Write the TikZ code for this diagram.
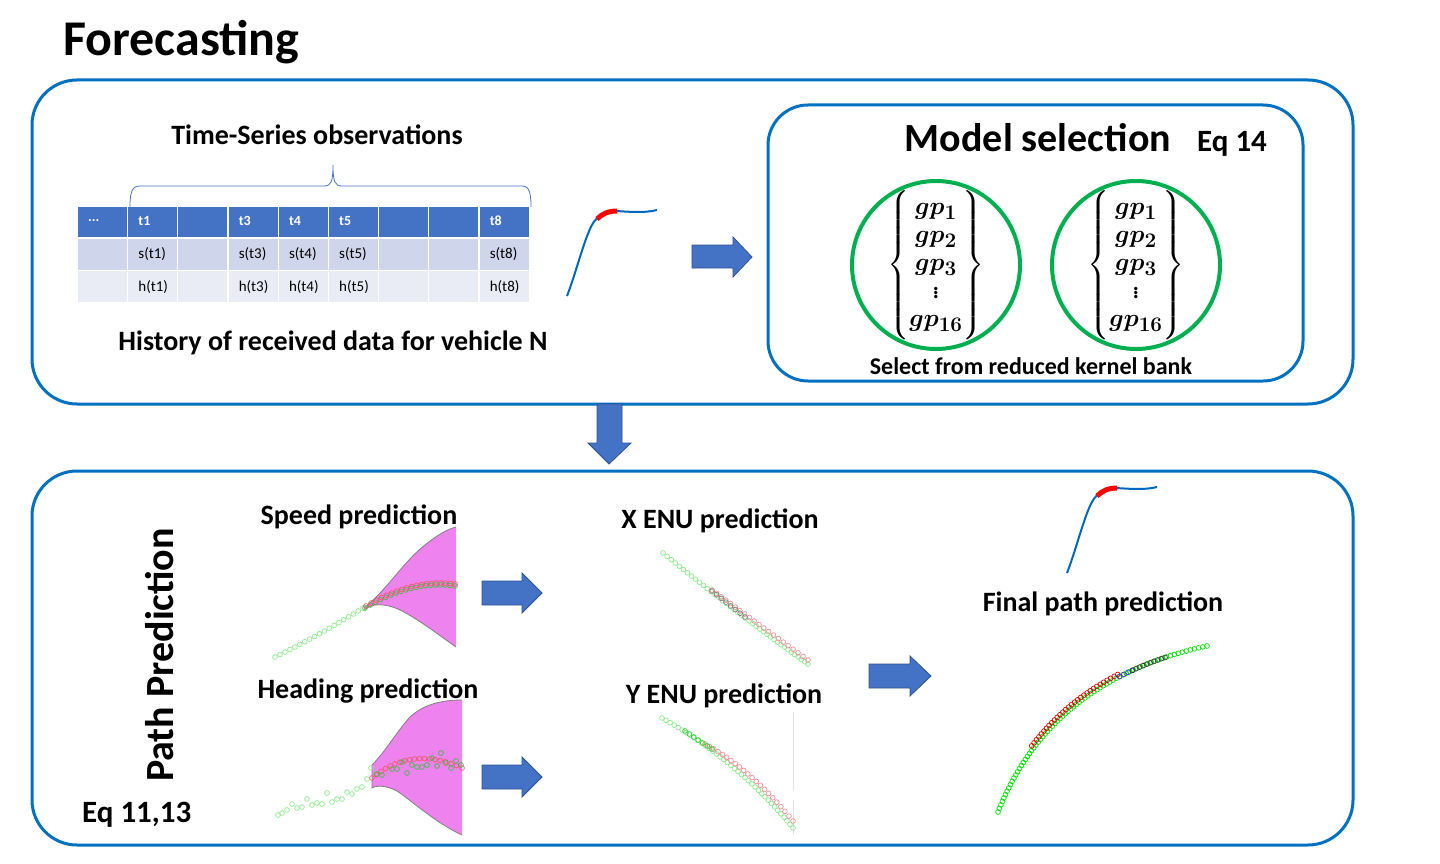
\documentclass[tikz,border=0pt]{standalone}
\usepackage{fontspec}
\usepackage{amsmath}
\usepackage{bm}
\setmainfont{Carlito}

\definecolor{boxblue}{RGB}{0,112,192}
\definecolor{arrowblue}{RGB}{68,114,196}
\definecolor{arrowedge}{RGB}{47,82,143}
\definecolor{rowa}{RGB}{207,213,234}
\definecolor{rowb}{RGB}{233,235,245}
\definecolor{kernelgreen}{RGB}{0,176,80}
\definecolor{bandpink}{RGB}{238,130,238}
\definecolor{lightgr}{RGB}{140,235,140}
\definecolor{predred}{RGB}{240,90,110}
\definecolor{curveblue}{RGB}{0,102,190}

\begin{document}
\begin{tikzpicture}[x=1pt, y=-1pt, every node/.style={inner sep=0pt},
    panel/.style={draw=boxblue, line width=3pt, rounded corners=45pt},
    blockarrow/.style={fill=arrowblue, draw=arrowedge, line width=0.8pt},
    heading/.style={font=\bfseries\fontsize{28}{32}\selectfont},
    cellhead/.style={text=white, anchor=west, font=\bfseries\fontsize{14}{16}\selectfont},
    cell/.style={anchor=west, font=\fontsize{15}{17}\selectfont},
    sample/.style={line width=0.7pt}]
    \useasboundingbox (0,0) rectangle (1440,864);

    % Title
    \node[anchor=base west, font=\bfseries\fontsize{50}{56}\selectfont] (title) at (63,56) {Forecasting};

    % Upper panel
    \draw[panel] (32,80) rectangle (1353,404);
    \node[heading, anchor=base] (obs) at (317,144) {Time-Series observations};
    \draw[arrowblue, line width=0.8pt] (130,207) .. controls (130,192) and (132,186) .. (140,186) -- (324,186) .. controls (331,186) and (333,182) .. (333,165)
        .. controls (333,182) and (335,186) .. (342,186) -- (522,186) .. controls (529,186) and (531,192) .. (531,207);

    % History table
    \foreach \i in {0,...,8} {
        \fill[arrowblue] ({78+50.2*\i},207) rectangle ++(49,30);
        \fill[rowa] ({78+50.2*\i},239) rectangle ++(49,31);
        \fill[rowb] ({78+50.2*\i},271) rectangle ++(49,31);
    }
    \node[cellhead] (hdots) at (88,221) {...};
    \foreach \i in {1,3,4,5,8} {
        \node[cellhead] (head\i) at ({78+50.2*\i+10},221) {t\i};
        \node[cell] (s\i) at ({78+50.2*\i+10},254) {s(t\i)};
        \node[cell] (h\i) at ({78+50.2*\i+10},287) {h(t\i)};
    }
    \node[heading, anchor=base] (history) at (333,350) {History of received data for vehicle N};

    % Small trajectory sketches
    \foreach \sx/\sy in {0/0, 500/277} {
        \begin{scope}[shift={(\sx,\sy)}]
            \draw[curveblue, line width=2pt] (567,296) .. controls (578,268) and (588,222) .. (598,218);
            \draw[curveblue, line width=2pt] (616,211) .. controls (632,212) and (645,213) .. (657,210);
            \draw[red, line width=5pt] (597,219) .. controls (602,214) and (608,211) .. (617,211);
        \end{scope}
    }

    % Arrow to model selection
    \draw[blockarrow] (692,245) -- (733,245) -- (733,237) -- (752,257) -- (733,277) -- (733,268) -- (692,268) -- cycle;

    % Model selection panel
    \draw[panel, rounded corners=40pt] (768,105) rectangle (1303,381);
    \node[anchor=base, font=\bfseries\fontsize{40}{44}\selectfont] (model) at (1038,152) {Model selection};
    \node[anchor=base west, font=\bfseries\fontsize{31}{35}\selectfont] (eq14) at (1197,152) {Eq 14};
    \foreach \cx [count=\k] in {936,1136} {
        \draw[kernelgreen, line width=4pt] (\cx,265) circle (84pt);
        \node[font=\fontsize{28}{28}\selectfont\boldmath] (bank\k) at (\cx,265)
            {$\left\{\begin{matrix}gp_1\\ gp_2\\ gp_3\\ \vdots\\ gp_{16}\end{matrix}\right\}$};
    }
    \node[anchor=base, font=\bfseries\fontsize{24}{28}\selectfont] (select) at (1031,374) {Select from reduced kernel bank};

    % Arrow down
    \draw[blockarrow] (597,404) -- (622,404) -- (622,443) -- (631,443) -- (609,464) -- (588,443) -- (597,443) -- cycle;

    % Lower panel
    \draw[panel] (32,471) rectangle (1353,845);
    \node[anchor=base, rotate=90, font=\bfseries\fontsize{40}{44}\selectfont] (pathpred) at (173,655) {Path Prediction};
    \node[anchor=base west, font=\bfseries\fontsize{31}{35}\selectfont] (eq1113) at (82,822) {Eq 11,13};

    % Speed prediction
    \node[heading, anchor=base] (speed) at (359,524) {Speed prediction};
    \fill[bandpink] (364,608) .. controls (385,592) and (405,560) .. (425,545) .. controls (437,535) and (448,529) .. (456,527)
        -- (456,647) .. controls (440,636) and (420,620) .. (400,610) .. controls (385,603) and (372,603) .. (364,610) -- cycle;
    \draw[gray, line width=0.8pt] (364,608) .. controls (385,592) and (405,560) .. (425,545) .. controls (437,535) and (448,529) .. (456,527);
    \draw[gray, line width=0.8pt] (364,610) .. controls (372,603) and (385,603) .. (400,610) .. controls (420,620) and (440,636) .. (456,647);
    \draw[blockarrow] (482,581) -- (522,581) -- (522,573) -- (542,593) -- (522,613) -- (522,605) -- (482,605) -- cycle;

    % Heading prediction
    \node[heading, anchor=base] (head) at (368,698) {Heading prediction};
    \fill[bandpink] (372,765) .. controls (385,752) and (398,730) .. (410,717) .. controls (425,703) and (445,700) .. (462,700)
        -- (462,835) .. controls (440,825) and (420,808) .. (400,793) .. controls (392,787) and (378,784) .. (372,788) -- cycle;
    \draw[gray, line width=0.8pt] (462,700) .. controls (445,700) and (425,703) .. (410,717) .. controls (398,730) and (385,752) .. (372,765)
        -- (372,788) .. controls (378,784) and (392,787) .. (400,793) .. controls (420,808) and (440,825) .. (462,835);
    \foreach \p in {(278,815),(282,813),(287,810),(292,804),(297,808),(302,807),(307,799),(312,805),(317,803),(322,804),
                    (327,793),(332,802),(337,799),(342,799),(347,792),(352,794),(357,789),(362,787),(367,779),(371,768)}
        \draw[lightgr, sample] \p circle (2.4pt);
    \draw[blockarrow] (482,765) -- (522,765) -- (522,757) -- (542,777) -- (522,797) -- (522,789) -- (482,789) -- cycle;

    % X ENU and Y ENU prediction
    \node[heading, anchor=base] (xenu) at (720,528) {X ENU prediction};
    \node[heading, anchor=base] (yenu) at (724,703) {Y ENU prediction};
    \draw[gray!20, line width=0.6pt] (793,712) -- (793,790);
    \draw[gray!20, line width=0.6pt] (793,800) -- (793,835);

    % Arrow to final path
    \draw[blockarrow] (869,664) -- (910,664) -- (910,656) -- (931,676) -- (910,696) -- (910,688) -- (869,688) -- cycle;
    \node[heading, anchor=base] (final) at (1103,611) {Final path prediction};

    % Sample circles along the predicted curves (start / bend / end, from t0 to t1)
    \foreach \ax/\ay/\bx/\by/\cx/\cy/\ta/\tb/\n/\col in {
        275/657/320/635/363/608/0/1/18/lightgr,
        365/608/412/580/455/586/0/1/18/green!50!gray,
        366/606/413/578/455/584/0/1/18/predred,
        372/778/412/745/462/768/0/1/18/predred,
        663/553/744/619/808/664/0/1/39/lightgr,
        712/590/758/624/808/660/0/1/20/predred!70,
        712/591/728/604/745/617/0/1/7/gray,
        662/718/738/761/793/828/0/1/37/lightgr,
        705/744/751/769/793/821/0/1/21/predred!70,
        685/731/698/740/712/749/0/1/6/green!60!gray,
        998/812/1050/680/1207/646/0/1/74/green!90!black,
        996/810/1048/678/1205/644/0.27/0.69/29/red!85!black,
        998/812/1050/680/1207/646/0.69/0.74/3/blue!60!gray,
        998/812/1050/680/1207/646/0.74/0.86/9/darkgray}
        \foreach \s in {0,...,\n} {
            \pgfmathsetmacro{\tt}{\ta+(\tb-\ta)*\s/\n}
            \draw[\col, sample] ({(1-\tt)^2*\ax+2*\tt*(1-\tt)*\bx+\tt^2*\cx}, {(1-\tt)^2*\ay+2*\tt*(1-\tt)*\by+\tt^2*\cy}) circle (2.4pt);
        }

    % Scattered heading samples inside the band
    \foreach \p in {(377,774),(382,775),(392,769),(397,769),(402,762),(407,773),(412,765),(417,767),(422,767),(427,765),
                    (432,758),(437,766),(441,753),(446,763),(451,768),(456,761),(461,765)}
        \draw[green!50!gray, sample] \p circle (2.4pt);
\end{tikzpicture}
\end{document}
